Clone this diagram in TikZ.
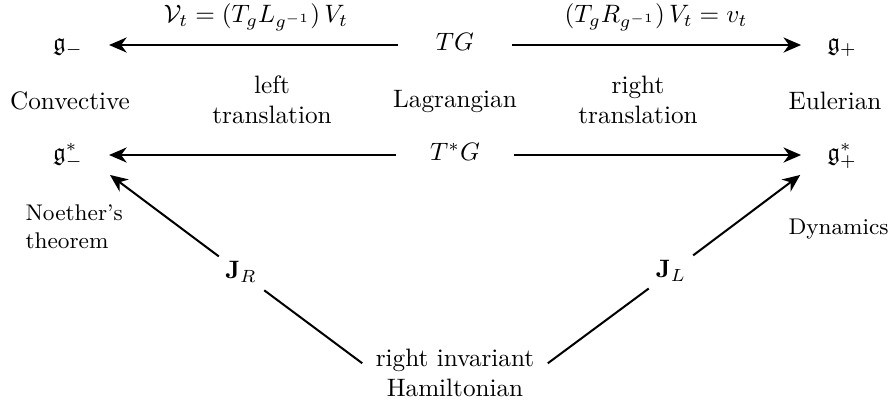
\documentclass[tikz,border=0pt]{standalone}
\usepackage{amsmath,amssymb}
\usetikzlibrary{arrows.meta}
\begin{document}
\begin{tikzpicture}[x=0.397pt,y=-0.397pt,
  mathnode/.style={inner sep=0pt, text height=7pt, text depth=2.5pt},
  txt/.style={inner sep=0pt, align=center},
  arr/.style={line width=0.8pt, -{Stealth[length=7pt,width=6pt,inset=2.2pt]}},
  ln/.style={line width=0.8pt}]
\useasboundingbox (0,0) rectangle (892,405);
% rows
\node[mathnode] (gm)  at (68,45)  {$\mathfrak{g}_-$};
\node[mathnode] (TG)  at (455,45) {$TG$};
\node[mathnode] (gp)  at (842,45) {$\mathfrak{g}_+$};
\node[txt] (conv) at (70,101)  {Convective};
\node[txt] (lag)  at (455,101) {Lagrangian};
\node[txt] (eul)  at (835,101) {Eulerian};
\node[txt] (lt)   at (272,100) {left\\translation};
\node[txt] (rt)   at (638,100) {right\\translation};
\node[mathnode] (gms) at (68,155)  {$\mathfrak{g}^*_-$};
\node[mathnode] (TsG) at (455,155) {$T^*G$};
\node[mathnode] (gps) at (842,155) {$\mathfrak{g}^*_+$};
\node[txt] (la) at (256,17) {$\mathcal{V}_t=(T_gL_{g^{-1}})\,V_t$};
\node[txt] (ra) at (656,17) {$(T_gR_{g^{-1}})\,V_t=v_t$};
\node[txt, align=left, anchor=west, font=\small] (noe) at (25,227) {Noether's\\theorem};
\node[txt, anchor=west, font=\small] (dyn) at (788,229) {Dynamics};
\node[mathnode] (JR) at (241,273) {$\mathbf{J}_R$};
\node[mathnode] (JL) at (671,272) {$\mathbf{J}_L$};
\node[txt] (H) at (455,373) {right invariant\\Hamiltonian};
% arrows
\draw[arr, shorten <=15pt, shorten >=10.2pt] (TG) -- (gm);
\draw[arr, shorten <=15pt, shorten >=10.2pt] (TG) -- (gp);
\draw[arr, shorten <=13.2pt, shorten >=10.2pt] (TsG) -- (gms);
\draw[arr, shorten <=13.2pt, shorten >=10.2pt] (TsG) -- (gps);
\draw[ln, shorten <=6.5pt, shorten >=11.5pt] (H.west) -- (JR.center);
\draw[arr, shorten <=11pt, shorten >=13.2pt] (JR.center) -- (gms.east);
\draw[ln, shorten <=6.5pt, shorten >=11pt] (H.east) -- (JL.center);
\draw[arr, shorten <=11pt, shorten >=13.2pt] (JL.center) -- (gps.west);
\end{tikzpicture}
\end{document}
